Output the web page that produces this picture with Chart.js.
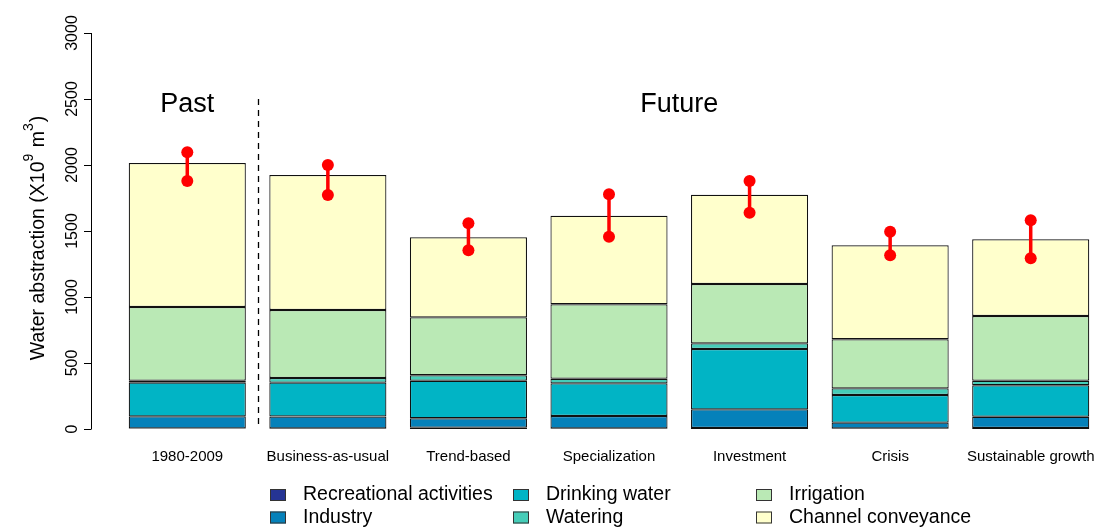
<!DOCTYPE html>
<html>
<head>
<meta charset="utf-8">
<title>Water abstraction</title>
<script src="https://cdn.jsdelivr.net/npm/chart.js@4"></script>
<style>
    html, body { margin: 0; padding: 0; background: #fff; overflow: hidden; }
    #wrap { width: 1101px; height: 528px; position: relative; }
</style>
</head>
<body>
<div id="wrap"><canvas id="waterChart"></canvas></div>
<script>
// chart data
const categories = ['1980-2009', 'Business-as-usual', 'Trend-based', 'Specialization', 'Investment', 'Crisis', 'Sustainable growth'];
const recreational = [4, 5, 10, 5, 8, 5, 8];
const industry = [92, 90, 71, 93, 141, 43, 85];
const drinking = [255, 256, 285, 248, 457, 210, 238];
const watering = [15, 35, 41, 35, 43, 50, 35];
const irrigation = [558, 516, 439, 564, 450, 372, 490];
const channel = [1091, 1022, 606, 671, 676, 712, 581];
const errHigh = [2096, 2000, 1558, 1778, 1879, 1495, 1581];
const errLow = [1879, 1773, 1354, 1457, 1639, 1316, 1293];
const yTicks = [0, 500, 1000, 1500, 2000, 2500, 3000];

const FONT = "'Liberation Sans', Arial, sans-serif";

document.addEventListener("DOMContentLoaded", () => {
    const series = [
        { label: 'Recreational activities', data: recreational, color: '#253494' },
        { label: 'Industry', data: industry, color: '#0581BA' },
        { label: 'Drinking water', data: drinking, color: '#01B4C5' },
        { label: 'Watering', data: watering, color: '#45CDB8' },
        { label: 'Irrigation', data: irrigation, color: '#BAE9B5' },
        { label: 'Channel conveyance', data: channel, color: '#FFFFCC' }
    ];

    // axes, labels, dashed divider and Past/Future text
    const decorations = {
        id: 'decorations',
        afterDatasetsDraw(chart) {
            const ctx = chart.ctx;
            const x = chart.scales.x;
            const y = chart.scales.y;
            ctx.save();

            // y axis line + ticks
            ctx.strokeStyle = '#000';
            ctx.lineWidth = 1;
            ctx.beginPath();
            ctx.moveTo(91.5, y.getPixelForValue(0));
            ctx.lineTo(91.5, y.getPixelForValue(3000));
            yTicks.forEach(v => {
                const py = Math.round(y.getPixelForValue(v)) + 0.5;
                ctx.moveTo(84, py);
                ctx.lineTo(91.5, py);
            });
            ctx.stroke();

            // tick labels, rotated
            ctx.fillStyle = '#000';
            ctx.font = '16px ' + FONT;
            ctx.textAlign = 'center';
            ctx.textBaseline = 'alphabetic';
            yTicks.forEach(v => {
                ctx.save();
                ctx.translate(76.5, y.getPixelForValue(v));
                ctx.rotate(-Math.PI / 2);
                ctx.fillText(String(v), 0, 0);
                ctx.restore();
            });

            // y axis title with superscripts
            const parts = [
                { t: 'Water abstraction (X10', sup: false },
                { t: '9', sup: true },
                { t: ' m', sup: false },
                { t: '3', sup: true },
                { t: ')', sup: false }
            ];
            const big = '19.5px ' + FONT;
            const small = '14px ' + FONT;
            let total = 0;
            parts.forEach(p => {
                ctx.font = p.sup ? small : big;
                p.w = ctx.measureText(p.t).width + (p.sup ? 1 : 0);
                total += p.w;
            });
            ctx.save();
            ctx.translate(43.5, 238);
            ctx.rotate(-Math.PI / 2);
            ctx.textAlign = 'left';
            let cx = -total / 2;
            parts.forEach(p => {
                ctx.font = p.sup ? small : big;
                ctx.fillText(p.t, cx, p.sup ? -11 : 0);
                cx += p.w;
            });
            ctx.restore();

            // category labels
            ctx.font = '15px ' + FONT;
            ctx.textAlign = 'center';
            ctx.textBaseline = 'middle';
            categories.forEach((c, i) => {
                ctx.fillText(c, x.getPixelForValue(i), 457);
            });

            // dashed divider between past and future
            ctx.setLineDash([6, 5]);
            ctx.lineWidth = 1.3;
            ctx.beginPath();
            const dx = Math.round(x.getPixelForValue(0.5)) + 0.5;
            ctx.moveTo(dx, y.getPixelForValue(2500));
            ctx.lineTo(dx, y.getPixelForValue(0));
            ctx.stroke();
            ctx.setLineDash([]);

            // Past / Future
            ctx.font = '27px ' + FONT;
            ctx.textBaseline = 'alphabetic';
            ctx.fillText('Past', x.getPixelForValue(0), y.getPixelForValue(2400));
            ctx.fillText('Future', x.getPixelForValue(3.5), y.getPixelForValue(2400));

            // error bars
            ctx.strokeStyle = '#FF0000';
            ctx.fillStyle = '#FF0000';
            ctx.lineWidth = 3.5;
            categories.forEach((c, i) => {
                const px = x.getPixelForValue(i);
                const hi = y.getPixelForValue(errHigh[i]);
                const lo = y.getPixelForValue(errLow[i]);
                ctx.beginPath();
                ctx.moveTo(px, hi);
                ctx.lineTo(px, lo);
                ctx.stroke();
                [hi, lo].forEach(py => {
                    ctx.beginPath();
                    ctx.arc(px, py, 6, 0, Math.PI * 2);
                    ctx.fill();
                });
            });

            // legend (3 columns, filled column by column)
            const colX = [270, 513, 756];
            const rowY = [495, 517.5];
            ctx.font = '19.5px ' + FONT;
            ctx.textAlign = 'left';
            ctx.textBaseline = 'middle';
            ctx.lineWidth = 1;
            series.forEach((s, k) => {
                const col = Math.floor(k / 2);
                const row = k % 2;
                const mx = colX[col];
                const my = rowY[row];
                ctx.fillStyle = s.color;
                ctx.fillRect(mx, my - 6, 16, 12);
                ctx.strokeStyle = '#333';
                ctx.strokeRect(mx + 0.5, my - 5.5, 15, 11);
                ctx.fillStyle = '#000';
                ctx.fillText(s.label, mx + 33, my);
            });

            ctx.restore();
        }
    };

    const ctx = document.getElementById('waterChart').getContext('2d');
    window.waterChart = new Chart(ctx, {
        type: 'bar',
        data: {
            labels: categories,
            datasets: series.map(s => ({
                label: s.label,
                data: s.data,
                backgroundColor: s.color,
                borderColor: '#111',
                borderWidth: 1.2,
                borderSkipped: false,
                barPercentage: 0.833,
                categoryPercentage: 1
            }))
        },
        options: {
            responsive: true,
            maintainAspectRatio: false,
            animation: false,
            layout: {
                padding: { left: 117, right: 0, top: 33, bottom: 99 }
            },
            plugins: {
                legend: { display: false },
                tooltip: { enabled: false }
            },
            scales: {
                x: {
                    stacked: true,
                    display: false,
                    offset: true
                },
                y: {
                    stacked: true,
                    display: false,
                    min: 0,
                    max: 3000
                }
            }
        },
        plugins: [decorations]
    });
});
</script>
</body>
</html>
